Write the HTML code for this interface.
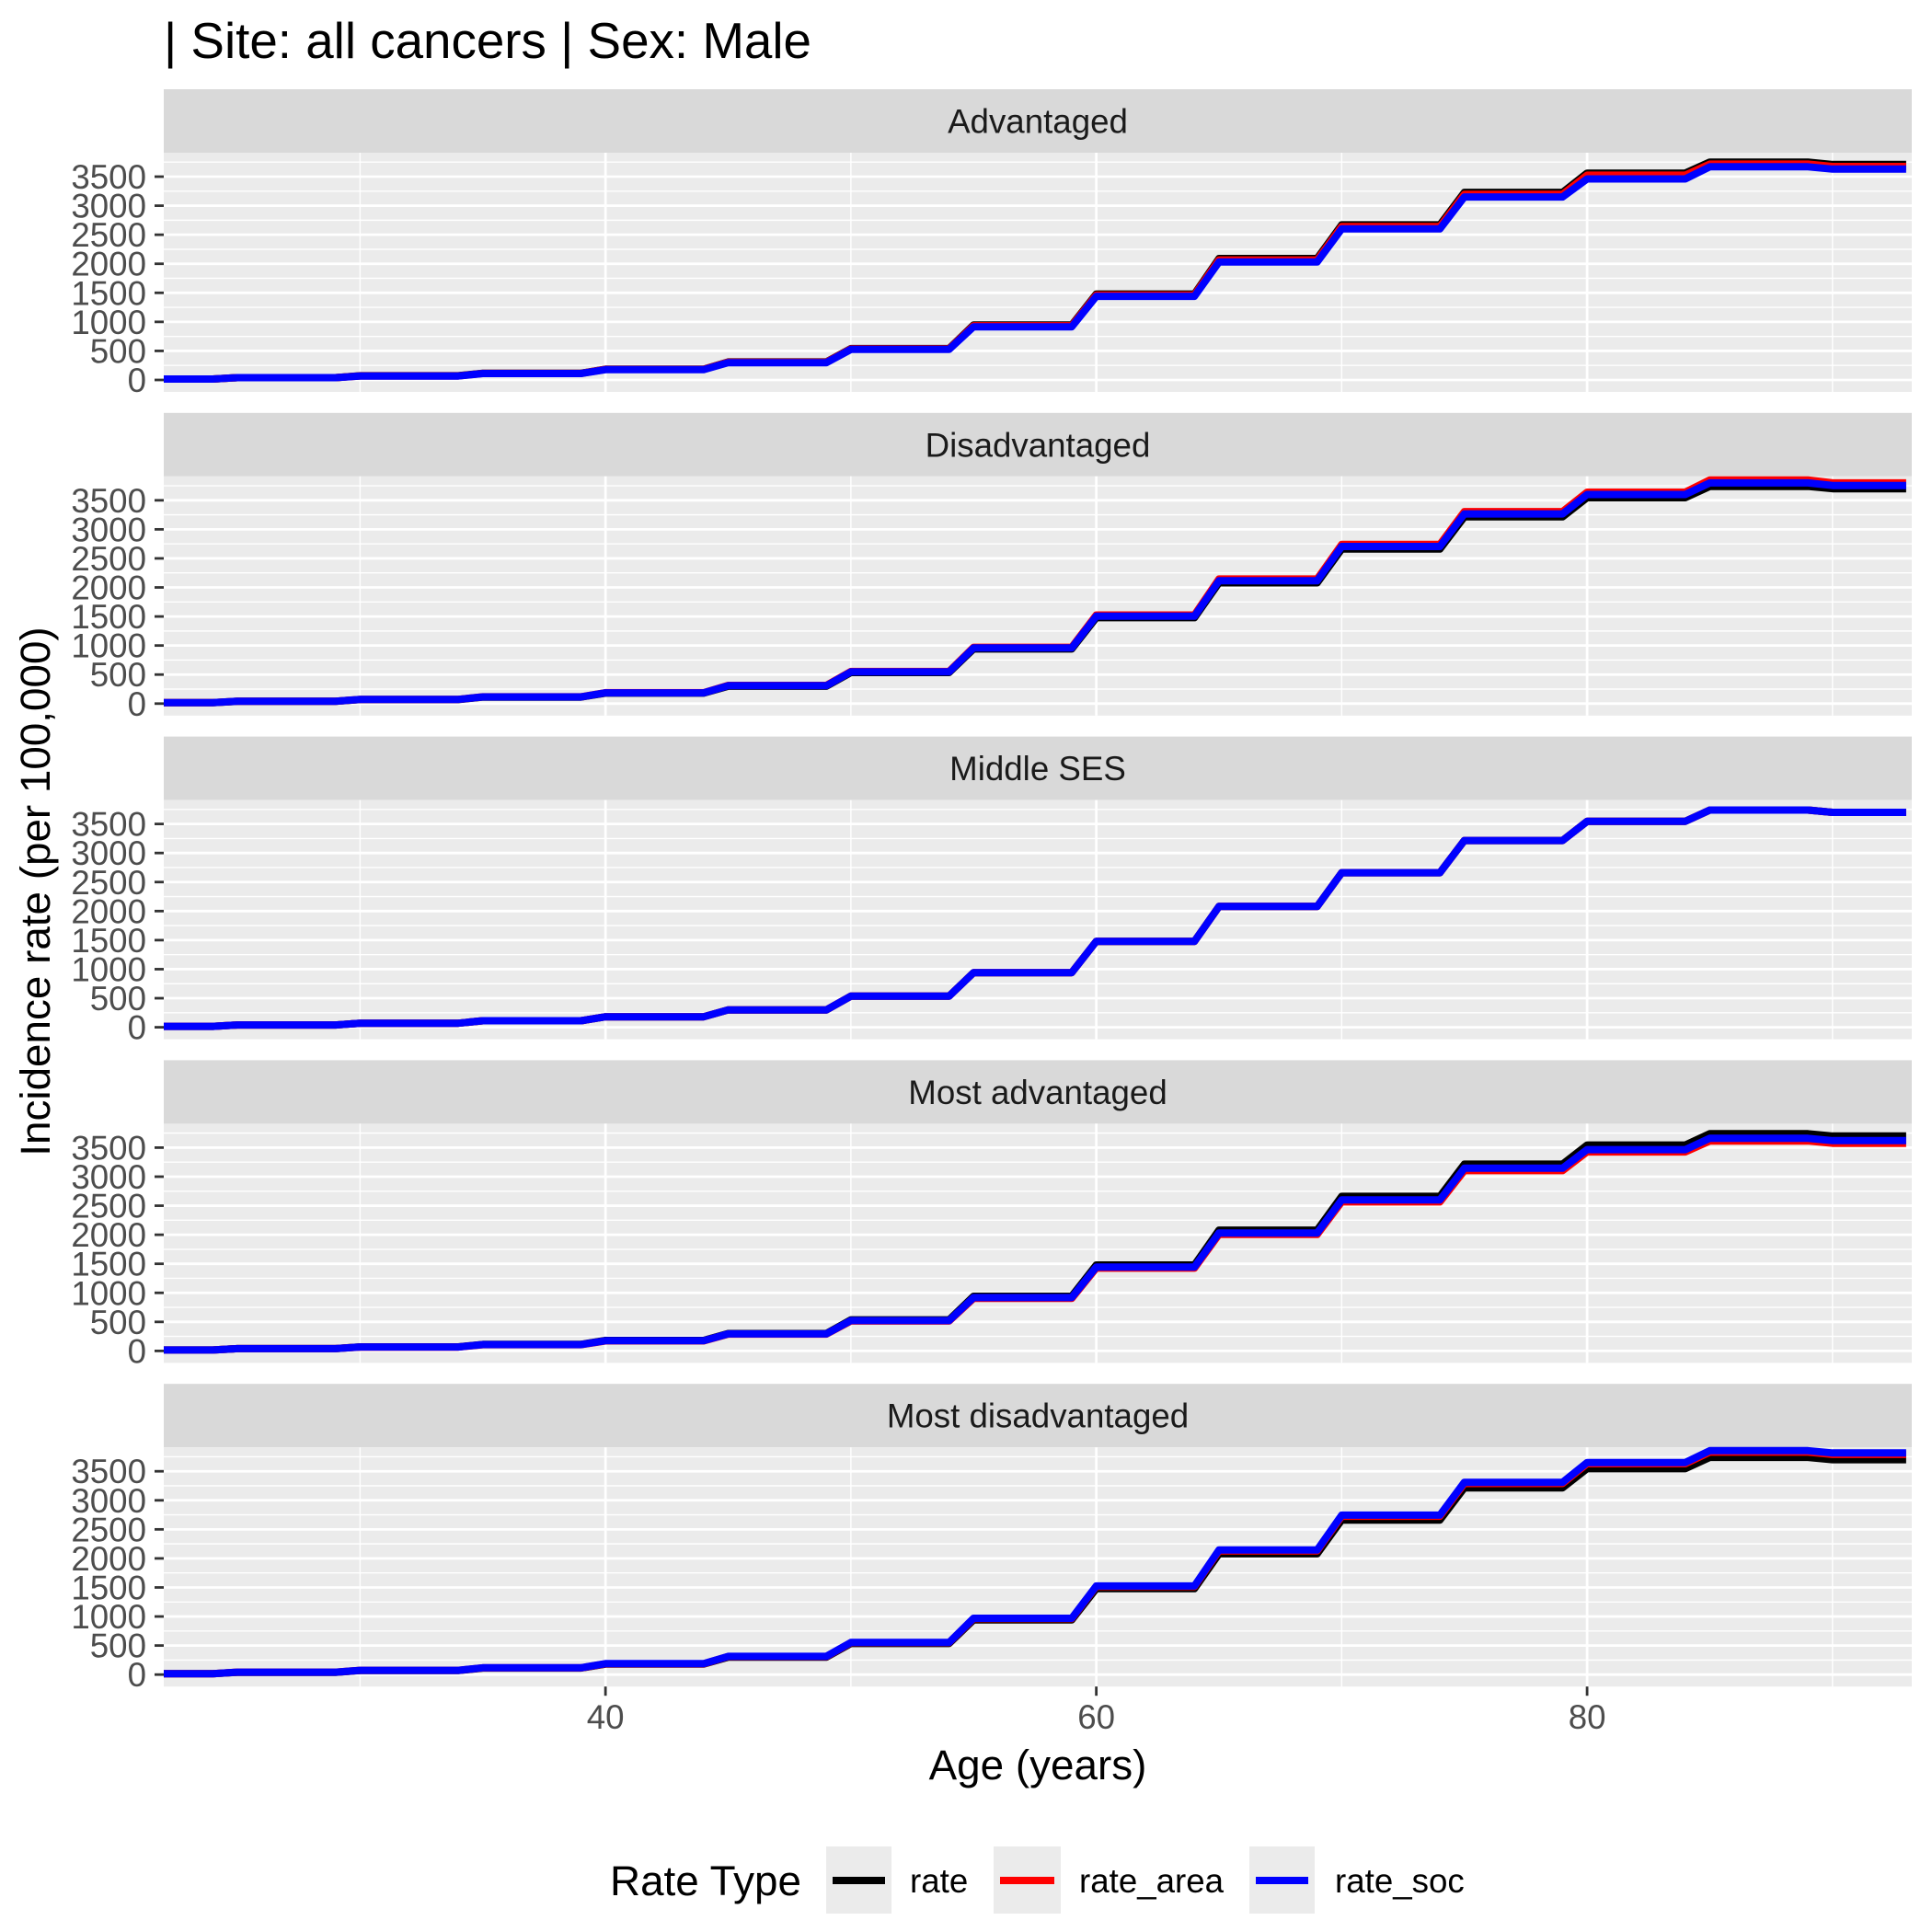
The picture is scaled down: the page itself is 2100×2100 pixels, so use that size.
<!DOCTYPE html>
<html><head><meta charset="utf-8"><style>
html,body{margin:0;padding:0;background:#fff}
svg{display:block;font-family:"Liberation Sans",Arial,sans-serif}
</style></head><body>
<svg id="chart" width="2100" height="2100" viewBox="0 0 2100 2100" xmlns="http://www.w3.org/2000/svg">
<text x="178" y="63" font-size="55" fill="#000" textLength="704" lengthAdjust="spacingAndGlyphs">| Site: all cancers | Sex: Male</text>
<g id="panels"></g>
<text transform="translate(54,969) rotate(-90)" text-anchor="middle" font-size="45.8" fill="#000">Incidence rate (per 100,000)</text>
<text x="1128" y="1934" text-anchor="middle" font-size="45.8" fill="#000">Age (years)</text>
<g transform="translate(-9,0)">
<text x="672" y="2060" font-size="45.8" fill="#000">Rate Type</text>
<g><rect x="907" y="2007" width="71" height="73" fill="#ebebeb"/><line x1="914" x2="971" y1="2044" y2="2044" stroke="#000" stroke-width="8"/><text x="998" y="2057" font-size="36.7" fill="#000">rate</text></g>
<g><rect x="1089" y="2007" width="73" height="73" fill="#ebebeb"/><line x1="1096" x2="1155" y1="2044" y2="2044" stroke="#ff0000" stroke-width="8"/><text x="1182" y="2057" font-size="36.7" fill="#000">rate_area</text></g>
<g><rect x="1367" y="2007" width="71" height="73" fill="#ebebeb"/><line x1="1374" x2="1431" y1="2044" y2="2044" stroke="#0000ff" stroke-width="8"/><text x="1460" y="2057" font-size="36.7" fill="#000">rate_soc</text></g>
</g>
</svg>
<script>
const panelNames = ["Advantaged","Disadvantaged","Middle SES","Most advantaged","Most disadvantaged"];
const groupStarts = [20,25,30,35,40,45,50,55,60,65,70,75,80,85,90];
const advRate = [15,40,72,115,185,310,540,945,1480,2090,2670,3230,3560,3750,3710];
const advArea = [15,40,70,113,182,305,533,933,1462,2065,2640,3195,3525,3715,3675];
const advSoc  = [15,40,68,110,178,298,525,915,1440,2030,2600,3150,3460,3670,3630];
const disRate = [15,40,70,112,180,300,535,940,1480,2080,2660,3215,3545,3740,3700];
const disArea = [15,41,73,117,188,313,553,970,1525,2145,2740,3305,3640,3850,3800];
const disSoc  = [15,41,72,115,185,308,546,958,1505,2115,2705,3265,3600,3800,3755];
const midRate = [15,40,70,112,180,300,535,940,1480,2080,2660,3215,3545,3740,3700];
const midArea = [15,40,70,112,180,300,535,940,1480,2080,2660,3215,3545,3740,3700];
const midSoc  = [15,40,70,112,180,300,535,940,1480,2080,2660,3215,3545,3740,3700];
const madRate = [15,40,70,112,180,300,535,940,1480,2080,2660,3215,3545,3740,3700];
const madArea = [15,39,67,108,173,289,515,905,1425,2005,2565,3105,3425,3615,3575];
const madSoc  = [15,39,68,109,175,293,522,918,1445,2030,2600,3145,3465,3660,3620];
const mdiRate = [15,40,70,112,180,300,535,940,1480,2080,2660,3215,3545,3740,3700];
const mdiArea = [15,41,72,116,186,310,549,963,1515,2130,2725,3290,3630,3830,3790];
const mdiSoc  = [15,41,73,117,188,313,553,970,1525,2145,2745,3310,3650,3855,3815];
const seriesByPanel = [[advRate,advArea,advSoc],[disRate,disArea,disSoc],[midRate,midArea,midSoc],[madRate,madArea,madSoc],[mdiRate,mdiArea,mdiSoc]];
const seriesNames = ["rate","rate-area","rate-soc"];
const seriesColors = ["#000000","#ff0000","#0000ff"];
const yTicks = [0,500,1000,1500,2000,2500,3000,3500];
const yMinor = [-250,250,750,1250,1750,2250,2750,3250,3750];
const xTicks = [40,60,80];
const xMinor = [30,50,70,90];
const ageMin = 22, ageMax = 93;

const NS="http://www.w3.org/2000/svg";
const L=178,R=2078,X0=22.0,X1=93.23,Y0=-206,Y1=3912,PH=260,STRIP=69,STEP=351.8;
const xs=a=>L+(a-X0)/(X1-X0)*(R-L);
function mk(t,at,p){const e=document.createElementNS(NS,t);for(const k in at)e.setAttribute(k,at[k]);p.appendChild(e);return e;}
const root=document.getElementById('panels');
panelNames.forEach((nm,i)=>{
  const st=97+STEP*i, pt=st+STRIP;
  const ys=v=>pt+PH-(v-Y0)/(Y1-Y0)*PH;
  const g=mk('g',{},root);
  
  
  const s=mk('rect',{x:L,y:st,width:R-L,height:STRIP,fill:'#d9d9d9'},g);
  
  
  const t=mk('text',{x:(L+R)/2,y:st+STRIP/2+13,'text-anchor':'middle','font-size':36.7,fill:'#1a1a1a'},g);
  t.textContent=nm;
  
  
  const bg=mk('rect',{x:L,y:pt,width:R-L,height:PH,fill:'#ebebeb'},g);
  
  
  yMinor.forEach(v=>{const y=ys(v);if(y>pt&&y<pt+PH)mk('line',{x1:L,x2:R,y1:y,y2:y,stroke:'#fff','stroke-width':1.4},g);});
  xMinor.forEach(v=>mk('line',{x1:xs(v),x2:xs(v),y1:pt,y2:pt+PH,stroke:'#fff','stroke-width':1.4},g));
  yTicks.forEach(v=>{const y=ys(v);mk('line',{x1:L,x2:R,y1:y,y2:y,stroke:'#fff','stroke-width':2.8},g);
    mk('line',{x1:L-10,x2:L,y1:y,y2:y,stroke:'#333','stroke-width':2.8},g);
    const lb=mk('text',{x:L-19,y:y+13,'text-anchor':'end','font-size':36.7,fill:'#4d4d4d'},g);lb.textContent=v;
    
    });
  xTicks.forEach(v=>mk('line',{x1:xs(v),x2:xs(v),y1:pt,y2:pt+PH,stroke:'#fff','stroke-width':2.8},g));
  seriesByPanel[i].forEach((vals,k)=>{
    let pts=[];
    for(let a=ageMin;a<=ageMax;a++){let gi=0;groupStarts.forEach((gs,j)=>{if(a>=gs)gi=j;});pts.push(xs(a).toFixed(1)+','+ys(vals[gi]).toFixed(1));}
    const pl=mk('polyline',{points:pts.join(' '),fill:'none',stroke:seriesColors[k],'stroke-width':8,'stroke-linejoin':'round'},g);
    
    
  });
  if(i===panelNames.length-1){
    xTicks.forEach(v=>{mk('line',{x1:xs(v),x2:xs(v),y1:pt+PH,y2:pt+PH+10,stroke:'#333','stroke-width':2.8},g);
      const lb=mk('text',{x:xs(v),y:pt+PH+46,'text-anchor':'middle','font-size':36.7,fill:'#4d4d4d'},g);lb.textContent=v;
      
      });
  }
});
</script>
</body></html>
